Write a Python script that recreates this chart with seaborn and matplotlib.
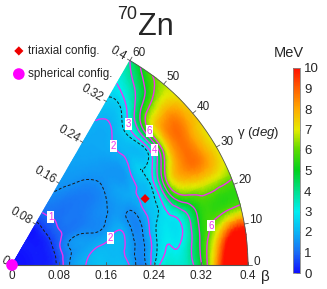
import numpy as np
import matplotlib
matplotlib.use("Agg")
import matplotlib.pyplot as plt
import matplotlib.tri as mtri
import seaborn as sns

sns.set_theme(style="white")
plt.rcParams['font.family'] = ['Liberation Sans', 'DejaVu Sans']
plt.rcParams['mathtext.fontset'] = 'custom'
plt.rcParams['mathtext.rm'] = 'Liberation Sans'
plt.rcParams['mathtext.it'] = 'Liberation Sans:italic'

# potential energy surface E(beta, gamma) in MeV
betas = np.linspace(0, 0.4, 17)            # 0, 0.025, ... 0.4
gammas = [0, 7.5, 15, 22.5, 30, 37.5, 45, 52.5, 60]
E_g00 = [0, .05, .15, .48, 1.6, 2.0, 2.25, 2.2, 1.95, 1.4, 3.0, 3.3, 3.6, 5.3, 8.8, 11.5, 12.0]
E_g07 = [0, .05, .15, .50, 1.5, 1.9, 2.15, 2.1, 1.8, 1.45, 2.6, 2.95, 3.5, 5.3, 7.4, 10.3, 11.0]
E_g15 = [0, .05, .15, .50, 1.45, 1.7, 1.85, 2.05, 1.9, 1.4, 2.4, 2.8, 3.3, 5.0, 5.6, 5.7, 5.9]
E_g22 = [0, .05, .15, .50, 1.4, 1.6, 1.45, 1.6, 1.7, 1.45, 2.2, 2.95, 5.3, 6.4, 6.8, 6.7, 6.3]
E_g30 = [0, .05, .15, .45, 1.05, 1.2, 1.3, 1.45, 1.6, 1.8, 2.05, 2.75, 6.0, 8.1, 8.8, 8.2, 7.0]
E_g37 = [0, .05, .13, .40, 1.0, 1.15, 1.2, 1.3, 1.52, 1.7, 1.85, 2.45, 3.0, 6.6, 8.7, 8.3, 7.4]
E_g45 = [0, .05, .12, .38, .95, 1.1, 1.15, 1.25, 1.48, 1.6, 1.75, 2.1, 2.75, 5.9, 7.7, 7.9, 7.2]
E_g52 = [0, .05, .12, .30, .95, 1.15, 1.3, 1.5, 1.65, 1.75, 1.85, 1.97, 2.35, 3.2, 4.3, 5.2, 6.2]
E_g60 = [0, .05, .12, .20, .95, 1.3, 1.55, 1.65, 1.75, 1.82, 1.88, 1.96, 2.15, 2.45, 2.9, 3.4, 4.0]
energy = np.array([E_g00, E_g07, E_g15, E_g22, E_g30, E_g37, E_g45, E_g52, E_g60])

solid_levels = [1, 2, 3, 4, 5, 6]
dashed_levels = [0.5, 1.5, 2.5]
beta_ticks = [0, 0.08, 0.16, 0.24, 0.32, 0.4]
beta_ticklabels = ["0", "0.08", "0.16", "0.24", "0.32", "0.4"]
gamma_ticks = [0, 10, 20, 30, 40, 50, 60]
cbar_ticks = list(range(11))
triaxial_beta, triaxial_gamma = 0.252, 26.5
spherical_beta, spherical_gamma = 0.0, 0.0

cmap = sns.blend_palette(["#1010ff", "#1a6ef5", "#0ab4f5", "#00eef0", "#00e08c", "#00d21e",
                          "#5ada00", "#e6eb00", "#ffaa00", "#ff6000", "#ff1000"], as_cmap=True)

# layout helpers: origin at pixel (12, 265), 590 px per unit of beta
X0, Y0, S = 12, 265, 590.0
W, H = 327, 289
fig = plt.figure(figsize=(W / 100, H / 100), dpi=100)
ax = fig.add_axes([0, 0, 1, 1])
ax.set_xlim(-X0 / S, (W - X0) / S)
ax.set_ylim(-(H - Y0) / S, Y0 / S)
ax.axis('off')


def polar(b, g):
    r = np.radians(g)
    return b * np.cos(r), b * np.sin(r)


# triangulation of the (beta, gamma) grid, single node at the origin
xs, ys, zs = [0.0], [0.0], [energy[0, 0]]
idx = {}
for j, g in enumerate(gammas):
    for i in range(1, len(betas)):
        idx[(i, j)] = len(xs)
        x, y = polar(betas[i], g)
        xs.append(x); ys.append(y); zs.append(energy[j, i])
tris = []
for j in range(len(gammas) - 1):
    tris.append([0, idx[(1, j)], idx[(1, j + 1)]])
    for i in range(1, len(betas) - 1):
        a, b, c, d = idx[(i, j)], idx[(i + 1, j)], idx[(i + 1, j + 1)], idx[(i, j + 1)]
        tris.append([a, b, c]); tris.append([a, c, d])
triang = mtri.Triangulation(xs, ys, tris)
tri_f, z_f = mtri.UniformTriRefiner(triang).refine_field(np.array(zs), subdiv=3)

pc = ax.tripcolor(tri_f, z_f, shading='gouraud', cmap=cmap, vmin=0, vmax=10)
csets = {}
for lvl in solid_levels:
    csets[lvl] = ax.tricontour(tri_f, z_f, levels=[lvl], colors='#ee33ee', linewidths=1.0)
ax.tricontour(tri_f, z_f, levels=dashed_levels, colors='k', linewidths=0.7,
              linestyles=[(0, (3, 2))])

# contour labels (level, pixel position), drawn upright in white boxes
label_spots = [(1, 46, 226), (2, 110, 238), (2, 119, 143), (3, 129, 124),
               (6, 150, 131), (4, 149, 153), (6, 215, 227)]
for lvl in solid_levels:
    spots = [((px - X0) / S, (Y0 - py) / S) for l, px, py in label_spots if l == lvl]
    if not spots:
        continue
    txts = ax.clabel(csets[lvl], manual=spots, fmt='%d', fontsize=7, inline=True,
                     inline_spacing=0, colors='#ee33ee')
    for t in txts:
        t.set_rotation(0)
        t.set_bbox(dict(boxstyle='square,pad=0.1', fc='white', ec='none'))

# frame: arc and base
gg = np.linspace(0, 60, 200)
ax.plot(*polar(0.4, gg), color='#555555', lw=0.6)
ax.plot([0, 0.4], [0, 0], color='#555555', lw=0.8)

# beta ticks along base and along the 60 degree edge
for b, lab in zip(beta_ticks, beta_ticklabels):
    ax.plot([b, b], [0, 3 / S], color='#555555', lw=0.6)
    ax.text(b, -11 / S, lab, ha='center', va='center', fontsize=8.5)
    ex, ey = polar(b, 60)
    nx, ny = -np.sin(np.radians(60)), np.cos(np.radians(60))
    ax.plot([ex, ex + nx * 3 / S], [ey, ey + ny * 3 / S], color='#555555', lw=0.6)
    ax.text(ex + nx * 5 / S, ey + ny * 5 / S, lab, rotation=-30, rotation_mode='anchor',
            ha='right', va='center', fontsize=8.5)

# gamma ticks along the arc
for g in gamma_ticks:
    x1, y1 = polar(0.4, g)
    x2, y2 = polar(0.4 + 4 / S, g)
    ax.plot([x1, x2], [y1, y2], color='#555555', lw=0.6)
    x3, y3 = polar(0.4 + 5 / S, g)
    ax.text(x3, y3, str(g), ha='left', va='baseline', fontsize=8.5)

# markers
tx, ty = polar(triaxial_beta, triaxial_gamma)
sx, sy = polar(spherical_beta, spherical_gamma)
sns.scatterplot(x=[tx], y=[ty], marker='D', color='#ee0000', s=22, edgecolor='none',
                ax=ax, zorder=6, clip_on=False, label='triaxial config.')
sns.scatterplot(x=[sx], y=[sy], marker='o', color='#ff00ff', s=70, edgecolor='none',
                ax=ax, zorder=6, clip_on=False, label='spherical config.')
ax.legend(loc='upper left', bbox_to_anchor=(13 / W, 1 - 45 / H), frameon=False,
          fontsize=8.4, handlelength=1.0, handletextpad=0.3, labelspacing=0.95,
          borderpad=0, borderaxespad=0)

# axis titles and plot title
ax.text((265 - X0) / S, (Y0 - 277) / S, "β", ha='center', va='center', fontsize=11)
ax.text((237 - X0) / S, (Y0 - 133) / S, r"γ ($\mathit{deg}$)", ha='left', va='center', fontsize=9.5)
fig.text(137 / W, 1 - 19 / H, "70", ha='right', va='baseline', fontsize=13)
fig.text(138 / W, 1 - 35 / H, "Zn", ha='left', va='baseline', fontsize=22)
fig.text(289 / W, 1 - 53 / H, "MeV", ha='center', va='center', fontsize=10.5)

# colour bar
cax = fig.add_axes([293 / W, 1 - 273 / H, 7 / W, 205 / H])
cb = fig.colorbar(pc, cax=cax, ticks=cbar_ticks)
cb.outline.set_edgecolor('#888888')
cb.outline.set_linewidth(0.6)
cb.ax.tick_params(direction='in', length=3, width=0.6, color='#444444',
                  labelsize=9.5, pad=3, right=True)

fig.savefig("out.png", dpi=100)
